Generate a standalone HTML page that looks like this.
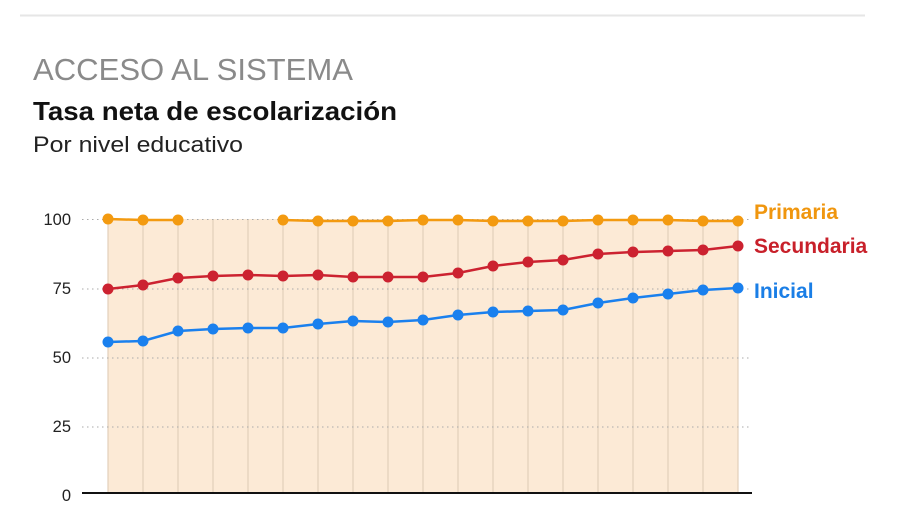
<!DOCTYPE html>
<html><head><meta charset="utf-8"><style>
html,body{margin:0;padding:0;background:#fff;width:900px;height:507px;overflow:hidden}
svg{display:block}
</style></head><body>
<svg width="900" height="507" viewBox="0 0 900 507" xmlns="http://www.w3.org/2000/svg" font-family="Liberation Sans, sans-serif">
<line x1="20" y1="15.5" x2="865" y2="15.5" stroke="#e6e6e6" stroke-width="2"/>
<text x="33" y="80" font-size="30.5" fill="#8a8a8a" textLength="320" lengthAdjust="spacingAndGlyphs">ACCESO AL SISTEMA</text>
<text x="33" y="120" font-size="26" font-weight="bold" fill="#111" textLength="364" lengthAdjust="spacingAndGlyphs">Tasa neta de escolarización</text>
<text x="33" y="152" font-size="22" fill="#222" textLength="210" lengthAdjust="spacingAndGlyphs">Por nivel educativo</text>
<rect x="108" y="219" width="630" height="274" fill="#fcead6"/>
<g stroke="#e2cfba" stroke-width="1.2" id="v"></g>
<g stroke="#aaa" stroke-width="1" stroke-dasharray="1.5,3.5">
<line x1="82" y1="219.5" x2="752" y2="219.5"/>
<line x1="82" y1="289" x2="752" y2="289"/>
<line x1="82" y1="358" x2="752" y2="358"/>
<line x1="82" y1="427" x2="752" y2="427"/>
</g>
<g font-size="16.5" fill="#222" text-anchor="end">
<text x="71" y="225">100</text><text x="71" y="294">75</text><text x="71" y="363">50</text><text x="71" y="432">25</text><text x="71" y="501">0</text>
</g>
<line x1="82" y1="493" x2="752" y2="493" stroke="#111" stroke-width="2"/>
<g id="s"></g>
<g font-size="21" font-weight="bold">
<text x="754" y="219" fill="#f0960e">Primaria</text>
<text x="754" y="253" fill="#c8202a">Secundaria</text>
<text x="754" y="298" fill="#1a7ee6">Inicial</text>
</g>
<script>
var xs=[];for(var i=0;i<19;i++)xs.push(108+i*35.0);
var ns="http://www.w3.org/2000/svg",v=document.getElementById('v'),s=document.getElementById('s');
xs.forEach(function(x){var l=document.createElementNS(ns,'line');l.setAttribute('x1',x);l.setAttribute('x2',x);l.setAttribute('y1',219);l.setAttribute('y2',493);v.appendChild(l);});
var P=[219,220,220,null,null,220,221,221,221,220,220,221,221,221,220,220,220,221,221];
var R=[289,285,278,276,275,276,275,277,277,277,273,266,262,260,254,252,251,250,246];
var B=[342,341,331,329,328,328,324,321,322,320,315,312,311,310,303,298,294,290,288];
function draw(arr,c){var segs=[],cur=[];arr.forEach(function(y,i){if(y==null){if(cur.length)segs.push(cur);cur=[];}else cur.push(xs[i]+','+y);});if(cur.length)segs.push(cur);
segs.forEach(function(sg){if(sg.length>1){var p=document.createElementNS(ns,'polyline');p.setAttribute('points',sg.join(' '));p.setAttribute('fill','none');p.setAttribute('stroke',c);p.setAttribute('stroke-width','2.5');s.appendChild(p);}});
arr.forEach(function(y,i){if(y==null)return;var e=document.createElementNS(ns,'circle');e.setAttribute('cx',xs[i]);e.setAttribute('cy',y);e.setAttribute('r',5.5);e.setAttribute('fill',c);s.appendChild(e);});}
draw(P,'#f39a10');draw(R,'#cc2230');draw(B,'#1a80ee');
</script>
</svg>
</body></html>
